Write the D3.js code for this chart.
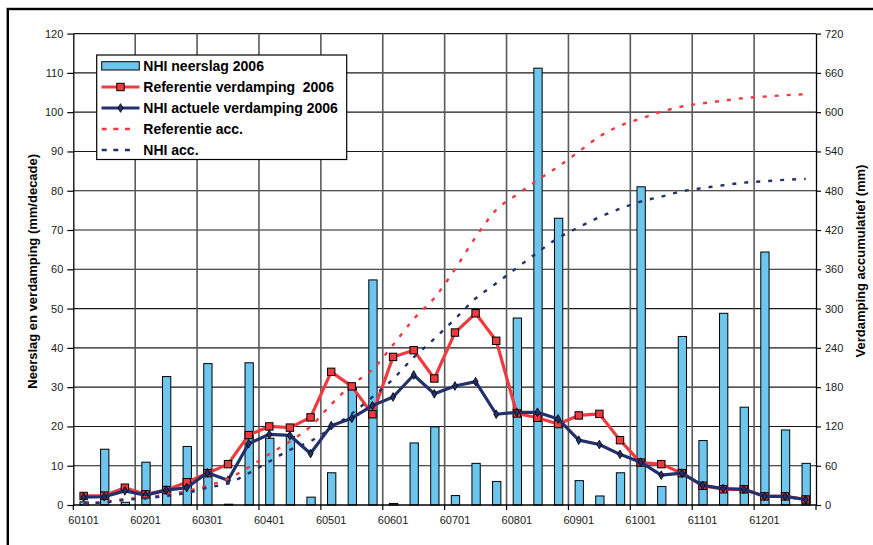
<!DOCTYPE html>
<html>
<head>
<meta charset="utf-8">
<script src="https://cdn.jsdelivr.net/npm/d3@7"></script>
<style>
  html, body { margin: 0; padding: 0; background: #fff; }
  svg { display: block; font-family: "Liberation Sans", Arial, sans-serif; }
</style>
</head>
<body>
<svg id="chart" width="873" height="545"></svg>
<script>
// Decades of 2006 (YMMDD codes)
const decades = [
  "60101","60111","60121","60201","60211","60221","60301","60311","60321",
  "60401","60411","60421","60501","60511","60521","60601","60611","60621",
  "60701","60711","60721","60801","60811","60821","60901","60911","60921",
  "61001","61011","61021","61101","61111","61121","61201","61211","61221"
];
// Decades that get a label on the category axis
const labelledDecades = ["60101","60201","60301","60401","60501","60601",
  "60701","60801","60901","61001","61101","61201"];

// NHI neerslag 2006 (mm/decade)
const neerslag = [0.8, 14.2, 0.7, 10.9, 32.7, 14.9, 36.0, 0.2, 36.2, 17.0, 17.5, 2.0,
  8.2, 29.7, 57.3, 0.4, 15.8, 19.9, 2.4, 10.6, 6.0, 47.6, 111.2, 73.0,
  6.2, 2.3, 8.2, 81.0, 4.7, 42.9, 16.4, 48.8, 24.9, 64.4, 19.1, 10.6];
// Referentie verdamping 2006 (mm/decade)
const refVerdamping = [2.3, 2.4, 4.4, 2.7, 3.8, 5.8, 8.1, 10.4, 17.8, 20.0, 19.7, 22.3,
  33.9, 30.2, 23.1, 37.7, 39.4, 32.2, 43.9, 48.8, 41.8, 23.3, 22.2, 20.6,
  22.8, 23.2, 16.5, 10.8, 10.4, 8.1, 4.9, 4.0, 4.0, 2.2, 2.2, 1.4];
// NHI actuele verdamping 2006 (mm/decade)
const nhiVerdamping = [2.0, 2.1, 3.6, 2.5, 3.8, 4.4, 8.2, 6.3, 15.6, 18.0, 17.7, 13.1,
  20.2, 22.1, 25.3, 27.5, 33.1, 28.3, 30.3, 31.4, 23.1, 23.6, 23.6, 21.9,
  16.5, 15.4, 12.9, 10.9, 7.6, 8.1, 5.0, 4.2, 4.0, 2.2, 2.2, 1.4];
// Referentie acc. (mm, right axis)
const refAcc = [2.3, 4.7, 9.1, 11.8, 15.6, 21.4, 29.5, 39.9, 57.7, 77.7, 97.4, 119.7,
  153.6, 183.8, 206.9, 244.6, 284.0, 316.2, 360.1, 408.9, 450.7, 474.0, 496.2, 516.8,
  539.6, 562.8, 579.3, 590.1, 600.5, 608.6, 613.5, 617.5, 621.5, 623.7, 625.9, 627.3];
// NHI acc. (mm, right axis)
const nhiAcc = [2.0, 4.1, 7.7, 10.2, 14.0, 18.4, 26.6, 32.9, 48.5, 66.5, 84.2, 97.3,
  117.5, 139.6, 164.9, 192.4, 225.5, 253.8, 284.1, 315.5, 338.6, 362.2, 385.8, 407.7,
  424.2, 439.6, 452.5, 463.4, 471.0, 479.1, 484.1, 488.3, 492.3, 494.5, 496.7, 498.1];

const leftTicks = d3.range(0, 121, 10);
const rightTicks = d3.range(0, 721, 60);

const legendItems = [
  { label: "NHI neerslag 2006", kind: "bar" },
  { label: "Referentie verdamping  2006", kind: "ref" },
  { label: "NHI actuele verdamping 2006", kind: "nhi" },
  { label: "Referentie acc.", kind: "refAcc" },
  { label: "NHI acc.", kind: "nhiAcc" }
];

const C = {
  bar: "#6CC6EE",
  red: "#EF3B40",
  navy: "#22306C",
  grid: "#1a1a1a",
  vgrid: "#5a5a5a",
  text: "#1a1a1a"
};

const plot = { left: 73.3, right: 816, top: 33.6, bottom: 505 };

const svg = d3.select("#chart");

// outer frame
svg.append("rect")
  .attr("x", 7.8).attr("y", 9)
  .attr("width", 1000).attr("height", 1000)
  .attr("fill", "none").attr("stroke", "#000").attr("stroke-width", 2.4);

const x = d3.scaleBand().domain(decades).range([plot.left, plot.right]).padding(0);
const yL = d3.scaleLinear().domain([0, 120]).range([plot.bottom, plot.top]);
const yR = d3.scaleLinear().domain([0, 720]).range([plot.bottom, plot.top]);
const cx = d => x(d) + x.bandwidth() / 2;

// horizontal gridlines
svg.append("g").selectAll("line").data(leftTicks.slice(1)).join("line")
  .attr("x1", plot.left).attr("x2", plot.right)
  .attr("y1", d => yL(d)).attr("y2", d => yL(d))
  .attr("stroke", C.grid).attr("stroke-width", 1.1);

// vertical gridlines every third decade
const boundaries = decades.filter((d, i) => i % 3 === 0 && i > 0);
svg.append("g").selectAll("line").data(boundaries).join("line")
  .attr("x1", d => x(d)).attr("x2", d => x(d))
  .attr("y1", plot.top).attr("y2", plot.bottom)
  .attr("stroke", C.vgrid).attr("stroke-width", 1.6);

// precipitation bars
const barW = 8.3;
svg.append("g").selectAll("rect").data(decades).join("rect")
  .attr("x", (d) => cx(d) - barW / 2 + 0.5)
  .attr("y", (d, i) => yL(neerslag[i]))
  .attr("width", barW)
  .attr("height", (d, i) => plot.bottom - yL(neerslag[i]))
  .attr("fill", C.bar).attr("stroke", "#000").attr("stroke-width", 1);

// axes
const axL = svg.append("g").attr("transform", `translate(${plot.left},0)`)
  .call(d3.axisLeft(yL).tickValues(leftTicks).tickSize(6).tickPadding(4).tickSizeOuter(0));
const axR = svg.append("g").attr("transform", `translate(${plot.right},0)`)
  .call(d3.axisRight(yR).tickValues(rightTicks).tickSize(5).tickPadding(4).tickSizeOuter(0));
[axL, axR].forEach(a => {
  a.select(".domain").attr("stroke", "#000").attr("stroke-width", 1.3);
  a.selectAll(".tick line").attr("stroke", "#000").attr("stroke-width", 1.2);
  a.selectAll(".tick text").attr("fill", C.text)
    .style("font-size", "11px").style("font-family", '"Liberation Sans", Arial, sans-serif');
});

// category axis
svg.append("line")
  .attr("x1", plot.left).attr("x2", plot.right)
  .attr("y1", plot.bottom).attr("y2", plot.bottom)
  .attr("stroke", "#000").attr("stroke-width", 1.3);
const tickPos = decades.filter((d, i) => i % 3 === 0).map(d => x(d)).concat([plot.right]);
svg.append("g").selectAll("line").data(tickPos).join("line")
  .attr("x1", d => d).attr("x2", d => d)
  .attr("y1", plot.bottom).attr("y2", plot.bottom + 5)
  .attr("stroke", "#000").attr("stroke-width", 1.2);
svg.append("g").selectAll("text").data(labelledDecades).join("text")
  .attr("x", d => cx(d)).attr("y", 524)
  .attr("text-anchor", "middle")
  .attr("fill", C.text).style("font-size", "11px")
  .text(d => d);

// evaporation lines
const lineL = d3.line().x((d, i) => cx(decades[i])).y(d => yL(d));
const lineR = d3.line().x((d, i) => cx(decades[i])).y(d => yR(d));

svg.append("path").datum(refVerdamping).attr("d", lineL)
  .attr("fill", "none").attr("stroke", C.red).attr("stroke-width", 3.2)
  .attr("stroke-linejoin", "round");
svg.append("g").selectAll("rect").data(refVerdamping).join("rect")
  .attr("x", (d, i) => cx(decades[i]) - 3.7).attr("y", d => yL(d) - 3.7)
  .attr("width", 7.4).attr("height", 7.4)
  .attr("fill", C.red).attr("stroke", "#000").attr("stroke-width", 1);

svg.append("path").datum(nhiVerdamping).attr("d", lineL)
  .attr("fill", "none").attr("stroke", C.navy).attr("stroke-width", 3.2)
  .attr("stroke-linejoin", "round");
const diamond = d3.symbol().type(d3.symbolDiamond).size(22);
svg.append("g").selectAll("path").data(nhiVerdamping).join("path")
  .attr("transform", (d, i) => `translate(${cx(decades[i])},${yL(d)})`)
  .attr("d", diamond)
  .attr("fill", C.navy).attr("stroke", "#000").attr("stroke-width", 0.8);

// accumulated evaporation (right axis)
svg.append("path").datum(refAcc).attr("d", lineR.curve(d3.curveMonotoneX))
  .attr("fill", "none").attr("stroke", C.red).attr("stroke-width", 2.4)
  .attr("stroke-dasharray", "4,8");
svg.append("path").datum(nhiAcc).attr("d", lineR.curve(d3.curveMonotoneX))
  .attr("fill", "none").attr("stroke", C.navy).attr("stroke-width", 2.4)
  .attr("stroke-dasharray", "4,8");

// axis titles
svg.append("text")
  .attr("transform", `translate(36.5,${(plot.top + plot.bottom) / 2 + 2}) rotate(-90)`)
  .attr("text-anchor", "middle").attr("fill", "#000")
  .style("font-size", "13px").style("font-weight", "bold")
  .text("Neerslag en verdamping (mm/decade)");
svg.append("text")
  .attr("transform", `translate(864.5,261) rotate(-90)`)
  .attr("text-anchor", "middle").attr("fill", "#000")
  .style("font-size", "13px").style("font-weight", "bold")
  .text("Verdamping accumulatief (mm)");

// legend
const lg = svg.append("g");
lg.append("rect").attr("x", 96.7).attr("y", 55).attr("width", 250).attr("height", 104.5)
  .attr("fill", "#fff").attr("stroke", "#000").attr("stroke-width", 1.2);
const rowY = i => 66 + i * 21;
legendItems.forEach((it, i) => {
  const y = rowY(i);
  if (it.kind === "bar") {
    lg.append("rect").attr("x", 101.7).attr("y", y - 4.3).attr("width", 37.6).attr("height", 8.3)
      .attr("fill", C.bar).attr("stroke", "#000").attr("stroke-width", 1);
  } else if (it.kind === "ref") {
    lg.append("line").attr("x1", 101.5).attr("x2", 139.5).attr("y1", y).attr("y2", y)
      .attr("stroke", C.red).attr("stroke-width", 3.2);
    lg.append("rect").attr("x", 120.5 - 3.7).attr("y", y - 3.7).attr("width", 7.4).attr("height", 7.4)
      .attr("fill", C.red).attr("stroke", "#000").attr("stroke-width", 1);
  } else if (it.kind === "nhi") {
    lg.append("line").attr("x1", 101.5).attr("x2", 139.5).attr("y1", y).attr("y2", y)
      .attr("stroke", C.navy).attr("stroke-width", 3.2);
    lg.append("path").attr("transform", `translate(120.5,${y})`).attr("d", diamond)
      .attr("fill", C.navy).attr("stroke", "#000").attr("stroke-width", 0.8);
  } else {
    lg.append("line").attr("x1", 101.7).attr("x2", 134).attr("y1", y).attr("y2", y)
      .attr("stroke", it.kind === "refAcc" ? C.red : C.navy).attr("stroke-width", 2.6)
      .attr("stroke-dasharray", "5,6.6");
  }
  lg.append("text").attr("x", 143.3).attr("y", y).attr("dy", "0.36em")
    .attr("fill", "#000").style("font-size", "14px").style("font-weight", "bold")
    .style("white-space", "pre")
    .text(it.label);
});
</script>
</body>
</html>
